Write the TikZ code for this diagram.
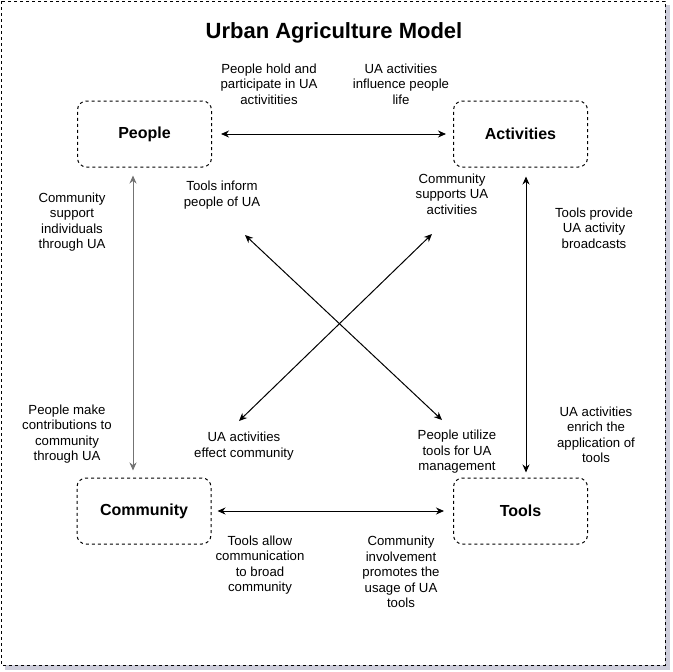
\documentclass[tikz,border=0pt]{standalone}
\usepackage{fontspec}
\setmainfont{Liberation Sans}
\usetikzlibrary{arrows.meta}
\definecolor{shadowc}{RGB}{205,205,218}
\begin{document}
\begin{tikzpicture}[x=1pt,y=-1pt,
  box/.style={draw,dashed,line width=1pt,rounded corners=9pt,minimum width=134pt,minimum height=66pt,inner sep=0pt,font=\fontsize{16}{18}\selectfont\bfseries},
  lbl/.style={align=center,inner sep=0pt,font=\fontsize{13.2}{15.5}\selectfont},
  conn/.style={{Stealth[length=8pt,width=7pt]}-{Stealth[length=8pt,width=7pt]},line width=1pt},
  frame/.style={draw,dashed,line width=1pt,fill=white},
  shade/.style={fill=shadowc,draw=none},
]
\useasboundingbox (0,0) rectangle (672,672);
\fill[shade] (5,5) rectangle (670,670);
\path[frame] (1,1) rectangle (665,665);

\node[font=\fontsize{22}{26}\selectfont\bfseries] (title) at (334,33) {Urban Agriculture Model};

\node[box] (people) at (144.5,134) {People};
\node[box] (activities) at (520.5,134) {Activities};
\node[box] (community) at (144,511) {Community};
\node[box] (tools) at (520.5,511) {Tools};

\draw[conn,shorten <=9pt,shorten >=7pt] (people.east) -- (activities.west);
\draw[conn,shorten <=6pt,shorten >=9pt] (community.east) -- (tools.west);
\draw[conn,black!55,shorten <=8pt,shorten >=7pt] ([xshift=-11.5pt]people.south) -- ([xshift=-11pt]community.north);
\draw[conn,shorten <=9pt,shorten >=5pt] ([xshift=5.5pt]activities.south) -- ([xshift=5.5pt]tools.north);

\coordinate (d1a) at (245,235);
\coordinate (d1b) at (442,420);
\coordinate (d2a) at (432,234);
\coordinate (d2b) at (239,421);
\draw[conn] (d1a) -- (d1b);
\draw[conn] (d2a) -- (d2b);

\node[lbl] (l1) at (269,84) {People hold and\\participate in UA\\activitities};
\node[lbl] (l2) at (401,84) {UA activities\\influence people\\life};
\node[lbl] (l3) at (222,195) {Tools inform\\people of UA};
\node[lbl] (l4) at (452,194) {Community\\supports UA\\activities};
\node[lbl] (l5) at (72,222) {Community\\support\\individuals\\through UA};
\node[lbl] (l6) at (594,228) {Tools provide\\UA activity\\broadcasts};
\node[lbl] (l7) at (67,434) {People make\\contributions to\\community\\through UA};
\node[lbl] (l8) at (244,446) {UA activities\\effect community};
\node[lbl] (l9) at (457,452) {People utilize\\tools for UA\\management};
\node[lbl] (l10) at (596,435) {UA activities\\enrich the\\application of\\tools};
\node[lbl] (l11) at (260,565) {Tools allow\\communication\\to broad\\community};
\node[lbl] (l12) at (401,572) {Community\\involvement\\promotes the\\usage of UA\\tools};
\end{tikzpicture}
\end{document}
